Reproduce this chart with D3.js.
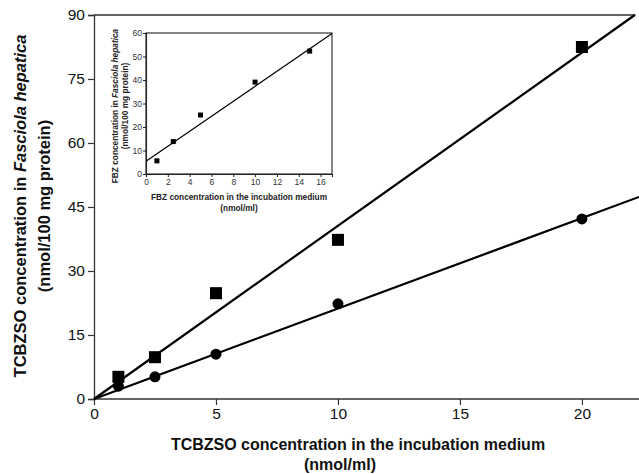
<!DOCTYPE html>
<html>
<head>
<meta charset="utf-8">
<script src="https://cdn.jsdelivr.net/npm/d3@7"></script>
<style>
  body { margin: 0; background: #fff; }
  svg { font-family: "Liberation Sans", Arial, sans-serif; }
</style>
</head>
<body>
<svg class="mysvg"></svg>
<script>
// main chart data (TCBZSO)
var conc = [1, 2.5, 5, 10, 20];
var squareVals = [5.2, 9.8, 24.8, 37.3, 82.5];
var circleVals = [3.0, 5.2, 10.5, 22.3, 42.2];
var squareSlope = 4.06, circleSlope = 2.12;
var xTicks = [0, 5, 10, 15, 20];
var yTicks = [0, 15, 30, 45, 60, 75, 90];

// inset data (FBZ)
var fbzConc = [1, 2.5, 5, 10, 15];
var fbzVals = [5.6, 13.8, 25.1, 39.1, 52.3];
var fbzIntercept = 5.4, fbzSlope = 3.19;
var insetXTicks = [0, 2, 4, 6, 8, 10, 12, 14, 16];
var insetYTicks = [0, 10, 20, 30, 40, 50, 60];

var svgWidth = 639, svgHeight = 474;
var svg = d3.select(".mysvg").attr("width", svgWidth).attr("height", svgHeight);

var x = d3.scaleLinear().domain([0, 22.34]).range([94, 639]);
var y = d3.scaleLinear().domain([0, 90]).range([399, 15]);

// axes
var xAxis = svg.append("g").attr("transform", "translate(0,399)")
    .call(d3.axisBottom(x).tickValues(xTicks).tickSize(6).tickPadding(3));
var yAxis = svg.append("g").attr("transform", "translate(94,0)")
    .call(d3.axisLeft(y).tickValues(yTicks).tickSize(6).tickPadding(3));
[xAxis, yAxis].forEach(function(a) {
  a.select(".domain").attr("stroke", "#333").attr("stroke-width", 1.3);
  a.selectAll(".tick line").attr("stroke", "#333").attr("stroke-width", 1.2);
  a.selectAll(".tick text").attr("font-size", 15.5).attr("fill", "#111")
    .attr("font-family", "Liberation Sans, Arial, sans-serif");
});
xAxis.select(".domain").attr("d", "M94,0H639");
// top frame line
svg.append("line").attr("x1", 94).attr("x2", x(22.2)).attr("y1", y(90)).attr("y2", y(90))
  .attr("stroke", "#333").attr("stroke-width", 1.3);

// regression lines
svg.append("line").attr("x1", x(0)).attr("y1", y(0))
  .attr("x2", x(90 / squareSlope)).attr("y2", y(90))
  .attr("stroke", "#000").attr("stroke-width", 2.2);
svg.append("line").attr("x1", x(0)).attr("y1", y(0))
  .attr("x2", x(22.34)).attr("y2", y(22.34 * circleSlope))
  .attr("stroke", "#000").attr("stroke-width", 2.2);

// markers
svg.selectAll(".sq").data(conc).enter().append("rect")
  .attr("x", function(d) { return x(d) - 6; })
  .attr("y", function(d, i) { return y(squareVals[i]) - 6; })
  .attr("width", 12).attr("height", 12).attr("fill", "#000");
svg.selectAll(".ci").data(conc).enter().append("circle")
  .attr("cx", function(d) { return x(d); })
  .attr("cy", function(d, i) { return y(circleVals[i]); })
  .attr("r", 5.5).attr("fill", "#000");

// axis titles
var xt = svg.append("text").attr("text-anchor", "middle").attr("font-weight", "bold")
  .attr("font-size", 16).attr("fill", "#111");
xt.append("tspan").attr("x", 358).attr("y", 450).text("TCBZSO concentration in the incubation medium");
xt.append("tspan").attr("x", 340).attr("y", 470).text("(nmol/ml)");

var yt = svg.append("text").attr("text-anchor", "middle").attr("font-weight", "bold")
  .attr("font-size", 16.5).attr("fill", "#111")
  .attr("transform", "translate(0,206) rotate(-90)");
var l1 = yt.append("tspan").attr("x", 0).attr("y", 26);
l1.append("tspan").text("TCBZSO concentration in ");
l1.append("tspan").attr("font-style", "italic").text("Fasciola hepatica");
yt.append("tspan").attr("x", 0).attr("y", 50).text("(nmol/100 mg protein)");

// inset
var ix = d3.scaleLinear().domain([0, 17.05]).range([146, 332]);
var iy = d3.scaleLinear().domain([0, 60]).range([174, 33]);
var inset = svg.append("g");
inset.append("rect").attr("x", 104).attr("y", 25).attr("width", 232).attr("height", 190).attr("fill", "#fff");
inset.append("rect").attr("x", 146).attr("y", 33).attr("width", 186).attr("height", 141)
  .attr("fill", "none").attr("stroke", "#222").attr("stroke-width", 1.1);
var ixAxis = inset.append("g").attr("transform", "translate(0,174)")
  .call(d3.axisBottom(ix).tickValues(insetXTicks).tickSize(3).tickPadding(2));
var iyAxis = inset.append("g").attr("transform", "translate(146,0)")
  .call(d3.axisLeft(iy).tickValues(insetYTicks).tickSize(3).tickPadding(1));
[ixAxis, iyAxis].forEach(function(a) {
  a.select(".domain").attr("stroke", "#222").attr("stroke-width", 1.1);
  a.selectAll(".tick line").attr("stroke", "#222");
  a.selectAll(".tick text").attr("font-size", 8.5).attr("fill", "#333")
    .attr("font-family", "Liberation Sans, Arial, sans-serif");
});
inset.append("line").attr("x1", ix(0)).attr("y1", iy(fbzIntercept))
  .attr("x2", ix(17.05)).attr("y2", iy(fbzIntercept + 17.05 * fbzSlope))
  .attr("stroke", "#000").attr("stroke-width", 1.2);
inset.selectAll(".isq").data(fbzConc).enter().append("rect")
  .attr("x", function(d) { return ix(d) - 2.5; })
  .attr("y", function(d, i) { return iy(fbzVals[i]) - 2.5; })
  .attr("width", 5).attr("height", 5).attr("fill", "#000");

var ixt = inset.append("text").attr("text-anchor", "middle").attr("font-weight", "bold")
  .attr("font-size", 8.3).attr("fill", "#222");
ixt.append("tspan").attr("x", 239).attr("y", 200).text("FBZ concentration in the incubation medium");
ixt.append("tspan").attr("x", 239).attr("y", 211).text("(nmol/ml)");
var iyt = inset.append("text").attr("text-anchor", "middle").attr("font-weight", "bold")
  .attr("font-size", 8.3).attr("fill", "#222")
  .attr("transform", "translate(0,106) rotate(-90)");
var il1 = iyt.append("tspan").attr("x", 0).attr("y", 118);
il1.append("tspan").text("FBZ concentration in ");
il1.append("tspan").attr("font-style", "italic").text("Fasciola hepatica");
iyt.append("tspan").attr("x", 0).attr("y", 128).text("(nmol/100 mg protein)");
</script>
</body>
</html>
